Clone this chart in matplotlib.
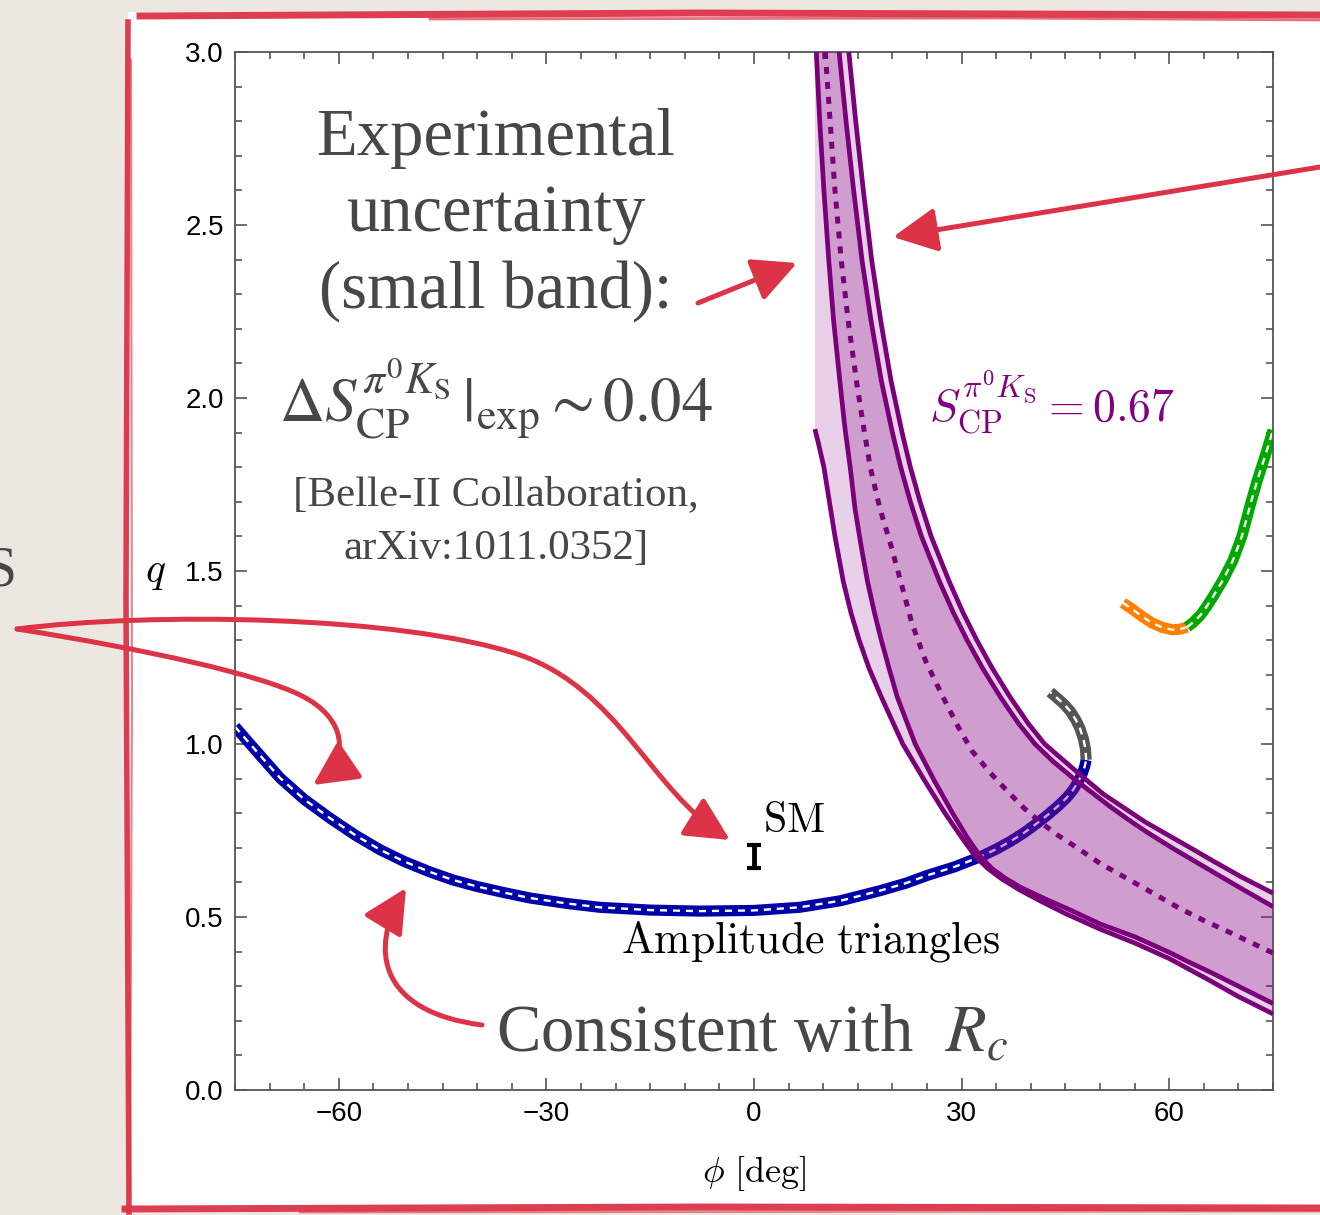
import matplotlib.pyplot as plt
import numpy as np
from matplotlib.patches import Rectangle, FancyArrowPatch, Polygon
from matplotlib.path import Path
from matplotlib.lines import Line2D

# ---- data (phi in deg, q) ----
# amplitude-triangle solution (blue), continuation (gray)
blue_x = [-75, -71.5, -68.5, -65, -61.3, -57.5, -54.0, -50.5, -46.8, -43.5, -40.0, -36.0, -32.4, -27.0,
          -22.3, -15.0, -7.8, 0.0, 6.6, 12.5, 18.2, 22.0, 25.0, 29.0, 32.7, 35.0, 37.0, 39.0, 40.9, 42.5,
          44.0, 45.2, 46.1, 46.9, 47.5, 47.8, 48.0]
blue_y = [1.05, 0.97, 0.902, 0.84, 0.786, 0.735, 0.694, 0.66, 0.63, 0.607, 0.588, 0.57, 0.555, 0.539,
          0.528, 0.52, 0.517, 0.519, 0.528, 0.547, 0.576, 0.598, 0.62, 0.645, 0.674, 0.696, 0.718, 0.743,
          0.771, 0.796, 0.822, 0.845, 0.867, 0.893, 0.918, 0.936, 0.954]
gray_x = [48.0, 47.9, 47.6, 47.1, 46.5, 45.7, 44.8, 43.8, 42.8]
gray_y = [0.954, 0.985, 1.015, 1.045, 1.07, 1.095, 1.115, 1.133, 1.15]
orange_x = [53.3, 54.5, 56.0, 57.5, 59.0, 60.5, 61.6, 62.6]
orange_y = [1.408, 1.392, 1.37, 1.35, 1.337, 1.33, 1.332, 1.338]
green_x = [62.6, 63.5, 64.5, 65.4, 66.3, 67.8, 69.2, 70.5, 71.7, 72.7, 73.9, 75.0]
green_y = [1.338, 1.352, 1.372, 1.397, 1.425, 1.475, 1.53, 1.60, 1.69, 1.76, 1.835, 1.907]

# S_CP band: central value (dotted), inner and outer edges
cen_x = [10.3, 11.0, 11.7, 12.6, 13.6, 14.8, 15.8, 16.8, 18.2, 19.7, 21.2, 22.8, 24.8, 27.3, 29.5, 31.5,
         34.0, 36.5, 39.0, 41.5, 44.0, 46.7, 50.0, 55.8, 61.5, 65.0, 68.8, 75.0]
cen_y = [3.0, 2.8, 2.6, 2.4, 2.225, 2.05, 1.92, 1.80, 1.68, 1.58, 1.47, 1.35, 1.24, 1.136, 1.05, 0.98,
         0.92, 0.866, 0.815, 0.772, 0.735, 0.70, 0.655, 0.59, 0.525, 0.49, 0.455, 0.396]
ri_x = [12.3, 13.3, 14.4, 15.6, 16.9, 18.4, 20.0, 21.2, 22.6, 24.2, 26.8, 28.8, 30.8, 33.0, 35.6, 38.2,
        40.6, 43.2, 46.2, 48.8, 51.4, 54.2, 56.8, 60.4, 63.8, 66.6, 70.8, 75.0]
ri_y = [3.0, 2.8, 2.6, 2.4, 2.225, 2.05, 1.90, 1.80, 1.70, 1.60, 1.47, 1.38, 1.30, 1.22, 1.136, 1.06,
        1.0, 0.95, 0.90, 0.86, 0.82, 0.78, 0.745, 0.70, 0.66, 0.627, 0.578, 0.53]
ro_x = [13.7, 14.7, 15.8, 17.0, 18.3, 19.8, 21.4, 22.6, 24.0, 25.6, 28.2, 30.2, 32.2, 34.4, 37.0, 39.6,
        42.0, 44.6, 47.5, 50.5, 53.5, 56.5, 60.0, 63.5, 66.5, 70.5, 75.0]
ro_y = [3.0, 2.8, 2.6, 2.4, 2.225, 2.05, 1.90, 1.80, 1.70, 1.60, 1.47, 1.38, 1.30, 1.22, 1.136, 1.06,
        1.0, 0.955, 0.905, 0.855, 0.815, 0.775, 0.735, 0.695, 0.66, 0.615, 0.569]
li_x = [9.0, 9.5, 10.1, 10.8, 11.5, 12.4, 13.1, 13.9, 14.6, 15.5, 16.4, 17.4, 18.4, 19.5, 20.7, 23.3,
        26.0, 28.7, 30.8, 32.7, 34.4, 36.3, 38.6, 42.0, 45.5, 50.0, 55.0, 60.0, 62.6, 66.0, 70.0, 75.0]
li_y = [3.0, 2.8, 2.6, 2.4, 2.225, 2.05, 1.92, 1.80, 1.68, 1.57, 1.47, 1.38, 1.30, 1.22, 1.136, 1.0,
        0.896, 0.80, 0.73, 0.675, 0.64, 0.612, 0.585, 0.553, 0.522, 0.48, 0.443, 0.398, 0.372, 0.34,
        0.30, 0.25]
lo_x = [8.8, 9.3, 10.1, 10.9, 11.7, 12.9, 14.0, 15.2, 16.6, 18.4, 21.5, 24.6, 27.6, 30.0, 32.0, 33.8,
        35.8, 38.4, 41.5, 45.0, 50.0, 55.0, 60.0, 62.6, 66.0, 70.0, 75.0]
lo_y = [1.91, 1.87, 1.80, 1.70, 1.60, 1.47, 1.38, 1.30, 1.22, 1.136, 1.0, 0.896, 0.80, 0.73, 0.675, 0.64,
        0.61, 0.578, 0.545, 0.51, 0.465, 0.425, 0.38, 0.352, 0.315, 0.27, 0.22]
pale_edge_x = [8.8, 8.8]
pale_edge_y = [3.0, 1.91]

sm_phi, sm_q, sm_err = 0.0, 0.675, 0.033

W, H = 1320, 1215
RED = '#dc3347'
GRAY_TXT = '#474747'
PURPLE = '#7a007a'


def fp(px, py):
    return (px / W, 1 - py / H)


fig = plt.figure(figsize=(W / 100, H / 100), dpi=100)
fig.patch.set_facecolor('#ece8e1')
fig.add_artist(Rectangle(fp(128, 1212), (W - 128) / W, 1200 / H, transform=fig.transFigure,
                         facecolor='white', edgecolor='none', zorder=-5))

ax = fig.add_axes([235 / W, 1 - 1090 / H, 1038 / W, 1038 / H])
ax.set_facecolor('none')
ax.set_xlim(-75, 75)
ax.set_ylim(0, 3)

# band
pale_poly = list(zip(pale_edge_x + lo_x, pale_edge_y + lo_y)) + list(zip(ro_x[::-1], ro_y[::-1]))
ax.add_patch(Polygon(pale_poly, closed=True, facecolor='#8d188d', alpha=0.2, edgecolor='none', zorder=3))
inner_poly = list(zip(li_x, li_y)) + list(zip(ri_x[::-1], ri_y[::-1]))
ax.add_patch(Polygon(inner_poly, closed=True, facecolor='#8d188d', alpha=0.27, edgecolor='none', zorder=3))
for xs, ys in [(lo_x, lo_y), (li_x, li_y), (ri_x, ri_y), (ro_x, ro_y)]:
    ax.plot(xs, ys, color=PURPLE, lw=3.4, solid_capstyle='butt', solid_joinstyle='round', zorder=4)
ax.plot(cen_x, cen_y, color=PURPLE, lw=3.6, dashes=(1.4, 1.6), zorder=4)

# solutions
for xs, ys, c in [(blue_x, blue_y, '#0000a8'), (gray_x, gray_y, '#555555'),
                  (orange_x, orange_y, '#ff8000'), (green_x, green_y, '#00a800')]:
    ax.plot(xs, ys, color=c, lw=8, solid_capstyle='butt', solid_joinstyle='round', zorder=2)
    ax.plot(xs, ys, color='white', lw=1.7, dashes=(3, 2.5), zorder=2.1)

ax.errorbar([sm_phi], [sm_q], yerr=[sm_err], fmt='none', ecolor='black', elinewidth=3.5,
            capsize=5, capthick=3, zorder=5)

# axes styling
ax.set_xticks([-60, -30, 0, 30, 60])
ax.set_xticks(np.arange(-75, 76, 5), minor=True)
ax.set_yticks(np.arange(0, 3.01, 0.5))
ax.set_yticks(np.arange(0, 3.01, 0.1), minor=True)
ax.tick_params(which='both', direction='in', top=True, right=True, color='#555555', width=1.2,
               labelsize=20, pad=8)
ax.tick_params(which='major', length=8.6)
ax.tick_params(which='minor', length=5)
for lab in ax.get_xticklabels() + ax.get_yticklabels():
    lab.set_fontfamily('Liberation Sans')
for s in ax.spines.values():
    s.set_color('#555555')
    s.set_linewidth(1.3)

ax.text(-0.077, 0.5, r'$q$', transform=ax.transAxes, ha='center', va='center', fontsize=30,
        math_fontfamily='cm')
ax.text(0.5, -0.08, r'$\phi\ [\mathrm{deg}]$', transform=ax.transAxes, ha='center', va='center',
        fontsize=26, math_fontfamily='cm')

# annotations inside the plot
serif = 'Liberation Serif'
ax.text(-37.3, 2.75, 'Experimental', ha='center', va='center', fontsize=48, family=serif, color=GRAY_TXT)
ax.text(-37.3, 2.53, 'uncertainty', ha='center', va='center', fontsize=48, family=serif, color=GRAY_TXT)
ax.text(-37.3, 2.31, '(small band):', ha='center', va='center', fontsize=48, family=serif, color=GRAY_TXT)
ax.text(-37.3, 2.0, r'$\Delta S_{\rm CP}^{\pi^0 K_{\rm S}}\,|_{\rm exp} \sim 0.04$', ha='center',
        va='center', fontsize=45, color=GRAY_TXT, math_fontfamily='stix')
ax.text(-37.3, 1.72, '[Belle-II Collaboration,', ha='center', va='center', fontsize=31, family=serif,
        color=GRAY_TXT)
ax.text(-37.3, 1.564, 'arXiv:1011.0352]', ha='center', va='center', fontsize=31, family=serif,
        color=GRAY_TXT)
ax.text(-0.3, 0.159, r'Consistent with  $R_c$', ha='center', va='center', fontsize=48, family=serif,
        color=GRAY_TXT, math_fontfamily='stix')
ax.text(8.1, 0.428, r'$\mathrm{Amplitude\ triangles}$', ha='center', va='center', fontsize=31.5,
        math_fontfamily='cm')
ax.text(1.3, 0.78, r'$\mathrm{SM}$', ha='left', va='center', fontsize=30, math_fontfamily='cm')
ax.text(43.1, 1.99, r'$S_{\rm CP}^{\pi^0 K_{\rm S}} = 0.67$', ha='center', va='center', fontsize=33,
        color='#800080', math_fontfamily='cm')

# edge of a word from the neighbouring slide column
fig.text(16 / W, 1 - 572 / H, 'S', ha='right', va='center', fontsize=40, family=serif, color=GRAY_TXT)

# hand-drawn red frame
for pts, lw, a in [([(140, 16), (700, 13), (1320, 15)], 5, 0.95),
                   ([(430, 19), (1000, 18), (1320, 20)], 2, 0.7),
                   ([(128, 22), (126, 600), (129, 1212)], 4, 0.95),
                   ([(131, 60), (132, 700), (130, 1200)], 1.5, 0.6),
                   ([(125, 1209), (700, 1207), (1320, 1208)], 5, 0.95),
                   ([(300, 1212), (1320, 1211)], 2, 0.6)]:
    xs, ys = zip(*[fp(px, py) for px, py in pts])
    fig.add_artist(Line2D(xs, ys, transform=fig.transFigure, color=RED, lw=lw, alpha=a, zorder=6))

# red arrows
style = '-|>,head_length=0.9,head_width=0.45'


def arrow_path(segs):
    verts, codes = [fp(*segs[0][0])], [Path.MOVETO]
    for seg in segs:
        for p in seg[1:]:
            verts.append(fp(*p))
            codes.append(Path.CURVE4)
    return Path(verts, codes)


arrows = [
    [[(1320, 167), (1180, 190), (1040, 213), (893, 237)]],
    [[(698, 303), (730, 290), (765, 276), (797, 263)]],
    [[(17, 629), (150, 612), (400, 615), (520, 655)], [(520, 655), (620, 690), (650, 790), (730, 840)]],
    [[(17, 629), (150, 650), (260, 675), (300, 695)], [(300, 695), (348, 718), (350, 760), (313, 785)]],
    [[(482, 1025), (380, 1012), (368, 950), (406, 888)]],
]
for segs in arrows:
    fig.add_artist(FancyArrowPatch(path=arrow_path(segs), arrowstyle=style, mutation_scale=30,
                                   transform=fig.transFigure, color=RED, lw=3.6, shrinkA=0, shrinkB=0,
                                   zorder=7))

fig.savefig('out.png', dpi=100, facecolor=fig.get_facecolor())
